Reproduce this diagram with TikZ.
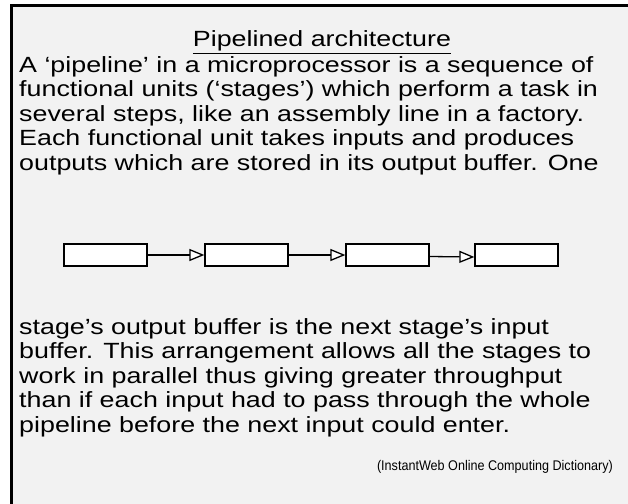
\documentclass[tikz,border=0pt]{standalone}
\usepackage{fontspec}
\setmainfont{Liberation Sans}[FakeStretch=1.22]
\newfontfamily\notefont{Liberation Sans}[FakeStretch=0.9]
\usetikzlibrary{arrows.meta}

\definecolor{panel}{HTML}{F2F2F2}

\tikzset{
    stage/.style={draw,fill=white,line width=1.3pt,minimum width=83pt,minimum height=22pt,inner sep=0pt},
    pipe/.style={line width=1.3pt,-{Triangle[length=15pt,width=12pt,fill=white,line width=1.3pt]}},
    body/.style={align=left,inner sep=0pt,anchor=north west,font=\fontsize{22}{24.5}\selectfont}
}

\begin{document}
\begin{tikzpicture}[x=1pt,y=1pt]

            \useasboundingbox (0,0) rectangle (628,-503);
            \clip (0,0) rectangle (628,-503);

            % panel with its frame
            \fill[panel] (11.5,-5.5) rectangle (650,-520);
            \draw[line width=3pt] (11.5,-520) -- (11.5,-5.5) -- (650,-5.5);

            \path   (322,-47) node (title) [anchor=base,inner sep=0pt,font=\fontsize{22}{24.5}\selectfont] {\underline{Pipelined architecture}}
                    (19,-56) node (top) [body] {A ‘pipeline’ in a microprocessor is a sequence of\\
functional units (‘stages’) which perform a task in\\
several steps, like an assembly line in a factory.\\
Each functional unit takes inputs and produces\\
outputs which are stored in its output buffer. One}
                    (19,-318) node (bottom) [body] {stage’s output buffer is the next stage’s input\\
buffer. This arrangement allows all the stages to\\
work in parallel thus giving greater throughput\\
than if each input had to pass through the whole\\
pipeline before the next input could enter.}
                    (613,-470) node (source) [anchor=base east,inner sep=0pt,font=\notefont\fontsize{14}{16}\selectfont] {(InstantWeb Online Computing Dictionary)};

            % the four stages
            \path   (105.5,-255) node (s1) [stage] {}
                    (246.5,-255) node (s2) [stage] {}
                    (387.5,-255) node (s3) [stage] {}
                    (516.5,-255) node (s4) [stage] {};

            \draw[pipe] (s1) -- (s2);
            \draw[pipe] (s2) -- (s3);
            \draw[pipe] ([yshift=-1.5pt]s3.east) -- ([yshift=-2pt]s4.west);

        \end{tikzpicture}
\end{document}
